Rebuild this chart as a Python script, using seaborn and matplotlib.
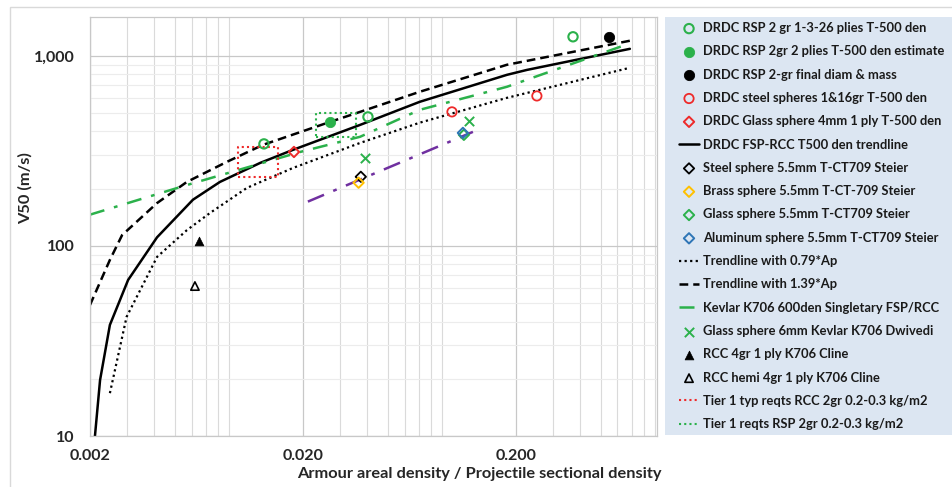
"""V50 vs armour areal density / projectile sectional density (log-log)."""
import matplotlib

matplotlib.use("Agg")
import matplotlib.pyplot as plt
import matplotlib.ticker as mticker
import numpy as np
import pandas as pd
import seaborn as sns
from matplotlib.patches import Rectangle

# ---- data ----
# trendlines
trend_x = [0.00211, 0.00223, 0.00248, 0.00302, 0.00413, 0.00609, 0.00815,
           0.01257, 0.01795, 0.0371, 0.0708, 0.1815, 0.2255, 0.686]
trend_y = [10, 19.7, 38.4, 66.2, 111, 175, 217, 273, 320, 433, 573, 794, 843, 1088]

low_x = [0.00248, 0.00297, 0.00413, 0.0057, 0.00732, 0.01092, 0.01795,
         0.0371, 0.0708, 0.1815, 0.686]
low_y = [16.8, 42.3, 87.5, 121, 149, 202, 257, 348, 445, 601, 865]

high_x = [0.002, 0.00248, 0.00283, 0.00413, 0.0057, 0.0088, 0.01298,
          0.0268, 0.0371, 0.0708, 0.1815, 0.686]
high_y = [48.9, 84.4, 114, 168, 217, 277, 340, 449, 507, 647, 897, 1200]

kevlar_x = [0.002, 0.0057, 0.0194, 0.0371, 0.0708, 0.1815, 0.656]
kevlar_y = [146, 209, 312, 375, 520, 687, 1142]

steier_fit_x = [0.0211, 0.1257]
steier_fit_y = [171, 398]

# tier 1 requirement boxes
rcc_box_x = [0.0099, 0.0153, 0.0153, 0.0099, 0.0099]
rcc_box_y = [231, 231, 332, 332, 231]
rsp_box_x = [0.0230, 0.0355, 0.0355, 0.0230, 0.0230]
rsp_box_y = [375, 375, 501, 501, 375]

# measured points
rsp_open_x = [0.01312, 0.0404, 0.371]
rsp_open_y = [344, 477, 1259]
rsp_est_x = [0.0268]
rsp_est_y = [449]
rsp_final_x = [0.547]
rsp_final_y = [1259]
steel_sph_x = [0.1002, 0.251]
steel_sph_y = [507, 615]
glass4_x = [0.01815]
glass4_y = [312]
steier_steel_x = [0.0374]
steier_steel_y = [231]
steier_brass_x = [0.0365]
steier_brass_y = [215]
steier_glass_x = [0.114]
steier_glass_y = [384]
steier_alu_x = [0.1128]
steier_alu_y = [393]
dwivedi_x = [0.0391, 0.120]
dwivedi_y = [290, 455]
cline_x = [0.0065]
cline_y = [106]
cline_hemi_x = [0.00622]
cline_hemi_y = [61.5]

GREEN = "#2bb14b"
RED = "#ee2a2a"

sns.set_theme(style="whitegrid")
plt.rcParams["font.family"] = ["Lato", "DejaVu Sans"]

W, H = 952, 487
fig = plt.figure(figsize=(W / 100, H / 100), dpi=100)
ax = fig.add_axes([90 / W, 1 - 436 / H, (657 - 90) / W, (436 - 17) / H])
ax.set_facecolor("white")


def pts(x, y, label, **kw):
    sns.scatterplot(x=x, y=y, ax=ax, label=label, zorder=5, **kw)


def line(x, y, label, **kw):
    sns.lineplot(x=x, y=y, ax=ax, label=label, sort=False, estimator=None, **kw)


pts(rsp_open_x, rsp_open_y, "DRDC RSP 2 gr 1-3-26 plies T-500 den",
    marker="o", s=45, facecolor="none", edgecolor=GREEN, linewidth=1.5)
pts(rsp_est_x, rsp_est_y, "DRDC RSP 2gr 2 plies T-500 den estimate",
    marker="o", s=55, color=GREEN, edgecolor=GREEN)
pts(rsp_final_x, rsp_final_y, "DRDC RSP 2-gr final diam & mass",
    marker="o", s=55, color="black", edgecolor="black")
pts(steel_sph_x, steel_sph_y, "DRDC steel spheres 1&16gr T-500 den",
    marker="o", s=45, facecolor="none", edgecolor=RED, linewidth=1.3)
pts(glass4_x, glass4_y, "DRDC Glass sphere 4mm 1 ply T-500 den",
    marker="D", s=28, facecolor="none", edgecolor=RED, linewidth=1.4)
line(trend_x, trend_y, "DRDC FSP-RCC T500 den trendline",
     color="black", linewidth=1.8)
pts(steier_steel_x, steier_steel_y, "Steel sphere 5.5mm T-CT709 Steier",
    marker="D", s=28, facecolor="none", edgecolor="black", linewidth=1.3)
pts(steier_brass_x, steier_brass_y, "Brass sphere 5.5mm T-CT-709 Steier",
    marker="D", s=28, facecolor="none", edgecolor="#ffc000", linewidth=1.4)
pts(steier_glass_x, steier_glass_y, "Glass sphere 5.5mm T-CT709 Steier",
    marker="D", s=28, facecolor="none", edgecolor=GREEN, linewidth=1.4)
pts(steier_alu_x, steier_alu_y, "Aluminum sphere 5.5mm T-CT709 Steier",
    marker="D", s=28, facecolor="none", edgecolor="#2e75b6", linewidth=1.4)
line(low_x, low_y, "Trendline with 0.79*Ap",
     color="black", linewidth=1.6, linestyle=(0, (1, 1.5)))
line(high_x, high_y, "Trendline with 1.39*Ap",
     color="black", linewidth=1.8, linestyle=(0, (3.5, 2)))
line(kevlar_x, kevlar_y, "Kevlar K706 600den Singletary FSP/RCC",
     color=GREEN, linewidth=1.8, linestyle=(0, (6, 4, 1.5, 4)))
pts(dwivedi_x, dwivedi_y, "Glass sphere 6mm Kevlar K706 Dwivedi",
    marker="x", s=45, color=GREEN, linewidth=1.4)
pts(cline_x, cline_y, "RCC 4gr 1 ply K706 Cline",
    marker="^", s=40, color="black", edgecolor="black")
pts(cline_hemi_x, cline_hemi_y, "RCC hemi 4gr 1 ply K706 Cline",
    marker="^", s=36, facecolor="none", edgecolor="black", linewidth=1.2)
line(rcc_box_x, rcc_box_y, "Tier 1 typ reqts RCC 2gr 0.2-0.3 kg/m2",
     color=RED, linewidth=1.5, linestyle=(0, (1, 1.5)))
line(rsp_box_x, rsp_box_y, "Tier 1 reqts RSP 2gr 0.2-0.3 kg/m2",
     color=GREEN, linewidth=1.5, linestyle=(0, (1, 1.5)))
line(steier_fit_x, steier_fit_y, "_nolegend_",
     color="#7030a0", linewidth=1.8, linestyle=(0, (7, 4, 1.5, 4)))

ax.set_xscale("log")
ax.set_yscale("log")
ax.set_xlim(0.002, 0.92)
ax.set_ylim(10, 1600)

ax.xaxis.set_major_locator(mticker.FixedLocator([0.002, 0.02, 0.2]))
ax.xaxis.set_major_formatter(mticker.FixedFormatter(["0.002", "0.020", "0.200"]))
ax.xaxis.set_minor_locator(mticker.LogLocator(base=10, subs=np.arange(2, 10)))
ax.xaxis.set_minor_formatter(mticker.NullFormatter())
ax.yaxis.set_major_locator(mticker.FixedLocator([10, 100, 1000]))
ax.yaxis.set_major_formatter(mticker.FixedFormatter(["10", "100", "1,000"]))
ax.yaxis.set_minor_locator(mticker.LogLocator(base=10, subs=np.arange(2, 10)))
ax.yaxis.set_minor_formatter(mticker.NullFormatter())

ax.grid(which="major", color="#c8c8c8", linewidth=0.9)
ax.grid(axis="x", which="minor", color="#dadada", linewidth=0.8)
ax.grid(axis="y", which="minor", color="#ececec", linewidth=0.8)
ax.tick_params(which="both", length=0, labelsize=11.5, labelcolor="#262626")
ax.tick_params(axis="x", pad=9)
ax.tick_params(axis="y", pad=11)
for lab in ax.get_xticklabels() + ax.get_yticklabels():
    lab.set_fontweight("bold")
for sp in ax.spines.values():
    sp.set_color("#c8c8c8")
    sp.set_linewidth(0.9)

ax.set_xlabel("Armour areal density / Projectile sectional density",
              fontsize=11.8, fontweight="bold", color="#262626")
ax.xaxis.set_label_coords((479 - 90) / 567, -0.075)
ax.set_ylabel("V50 (m/s)", fontsize=11.8, fontweight="bold", color="#262626")
ax.yaxis.set_label_coords(-(90 - 33) / 567, (436 - 188) / 419)

# legend panel
fig.patches.append(Rectangle((665 / W, 1 - 435 / H), (W - 665) / W, (435 - 17) / H,
                             transform=fig.transFigure, facecolor="#dce6f2",
                             edgecolor="none", zorder=-2))
# outer chart border
fig.patches.append(Rectangle((10 / W, -0.05), 1.0, 1 - 7 / H + 0.05,
                             transform=fig.transFigure, fill=False,
                             edgecolor="#d9d9d9", linewidth=1.0, zorder=-2))

handles, labels = ax.get_legend_handles_labels()
leg = ax.legend(handles, labels, loc="upper left",
                bbox_to_anchor=(679 / W, 1 - 22 / H), bbox_transform=fig.transFigure,
                frameon=False, borderpad=0, borderaxespad=0,
                handlelength=1.55, handletextpad=0.3, labelspacing=0.875,
                scatterpoints=1,
                prop={"family": ["Lato", "DejaVu Sans"], "weight": "bold", "size": 9.3})
for t in leg.get_texts():
    t.set_color("#1a1a1a")

fig.savefig("out.png", dpi=100)
